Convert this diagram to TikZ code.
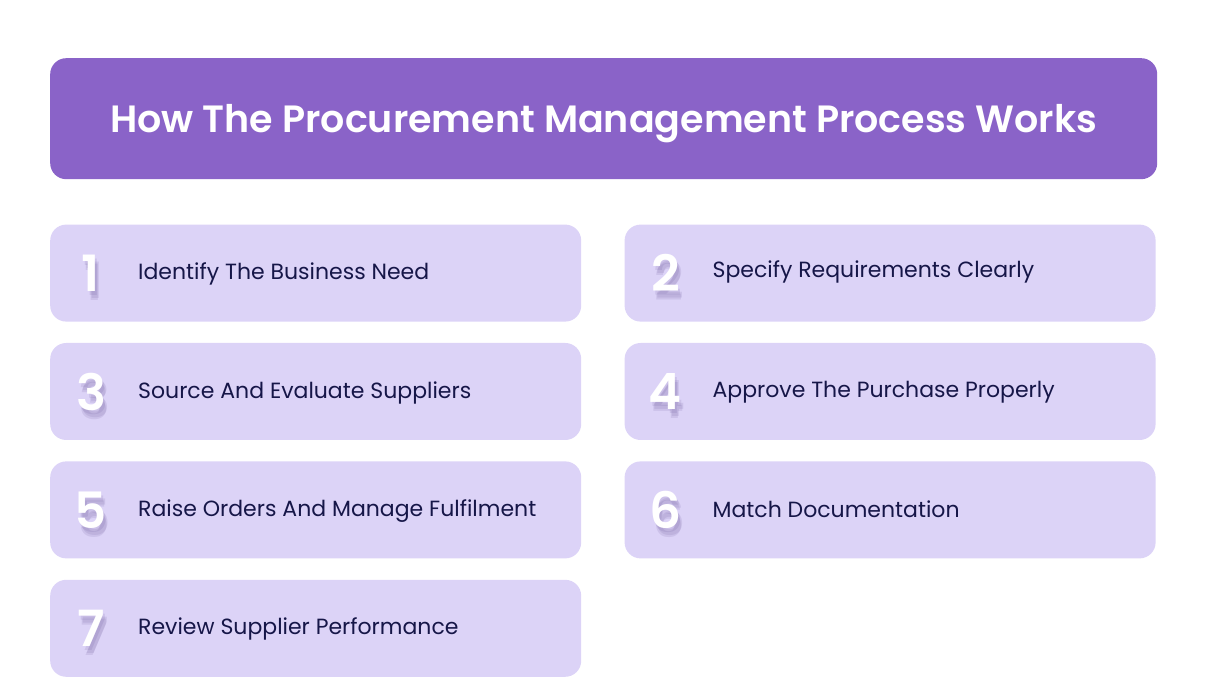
\documentclass[tikz,border=0pt]{standalone}
\usepackage{fontspec}
\setmainfont{Poppins}[BoldFont={Poppins SemiBold}]
\usepackage{tikz}
\usetikzlibrary{positioning,calc}
\definecolor{titlepurple}{RGB}{138,99,200}
\definecolor{steplilac}{RGB}{220,211,247}
\definecolor{stepnavy}{RGB}{22,22,72}
\definecolor{numshade}{RGB}{90,70,140}
\tikzset{
	titlebox/.style = {
		fill=titlepurple,
		rectangle,
		minimum width=1107pt,
		minimum height=121pt,
		rounded corners=16pt
	},
	titletext/.style = {
		inner sep=0pt,
		text=white,
		font=\fontsize{38}{42}\selectfont\bfseries
	},
	stepbox/.style = {
		fill=steplilac,
		rectangle,
		minimum width=531pt,
		minimum height=97pt,
		rounded corners=16pt
	},
	steptext/.style = {
		anchor=west,
		inner sep=0pt,
		text=stepnavy,
		font=\fontsize{22}{26}\selectfont
	},
	stepnum/.style = {
		inner sep=0pt,
		text=white,
		font=\fontsize{50}{54}\selectfont\bfseries
	},
	numshadow/.style = {
		stepnum,
		text=numshade,
		opacity=0.12
	}
}
% number with soft drop shadow, #1 box name, #2 digit
\newcommand{\stepnumber}[2]{
	\foreach \dx/\dy in {2/-4,4/-7,3/-9}
		\node[numshadow] at ([xshift=41pt+\dx pt, yshift=\dy pt]#1.west) {#2};
	\node[stepnum] (#1num) at ([xshift=41pt]#1.west) {#2};
}

\begin{document}
\begin{tikzpicture}
	
	\useasboundingbox (0,0) rectangle (1208pt,698pt);
	
	\node [titlebox, anchor=north west] (title) at (50pt,640pt) {};
	\node [titletext, anchor=base] (titlelabel) at ([yshift=-14pt]title.center) {How The Procurement Management Process Works};
	
	% --- Pasos ---
	\node [stepbox, below right=45pt and 0pt of title.south west] (step1) {};
	\node [stepbox, right=43pt of step1] (step2) {};
	\node [stepbox, below=21pt of step1] (step3) {};
	\node [stepbox, right=43pt of step3] (step4) {};
	\node [stepbox, below=21pt of step3] (step5) {};
	\node [stepbox, right=43pt of step5] (step6) {};
	\node [stepbox, below=21pt of step5] (step7) {};
	
	\stepnumber{step1}{1}
	\stepnumber{step2}{2}
	\stepnumber{step3}{3}
	\stepnumber{step4}{4}
	\stepnumber{step5}{5}
	\stepnumber{step6}{6}
	\stepnumber{step7}{7}
	
	\node [steptext] (text1) at ([xshift=88pt, yshift=-1pt]step1.west) {Identify The Business Need};
	\node [steptext] (text2) at ([xshift=88pt, yshift=1pt]step2.west) {Specify Requirements Clearly};
	\node [steptext] (text3) at ([xshift=88pt, yshift=-1pt]step3.west) {Source And Evaluate Suppliers};
	\node [steptext] (text4) at ([xshift=88pt, yshift=-1pt]step4.west) {Approve The Purchase Properly};
	\node [steptext] (text5) at ([xshift=88pt, yshift=-1pt]step5.west) {Raise Orders And Manage Fulfilment};
	\node [steptext] (text6) at ([xshift=88pt, yshift=1pt]step6.west) {Match Documentation};
	\node [steptext] (text7) at ([xshift=88pt, yshift=-1pt]step7.west) {Review Supplier Performance};
	
\end{tikzpicture}
\end{document}
